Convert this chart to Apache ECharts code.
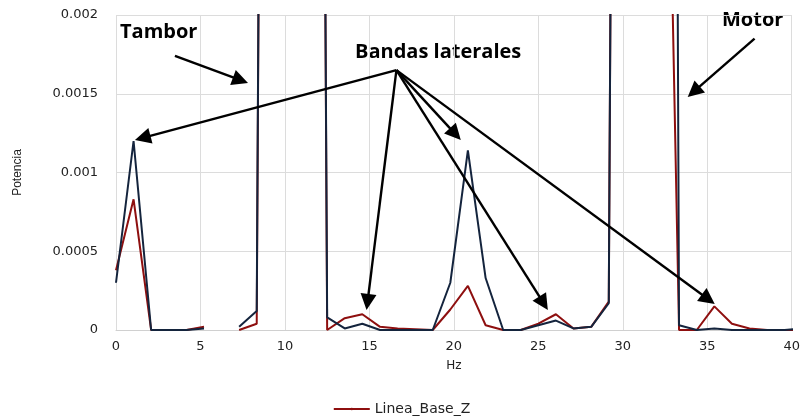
<!DOCTYPE html>
<html>
<head>
<meta charset="utf-8">
<script src="https://cdn.jsdelivr.net/npm/echarts@6/dist/echarts.min.js"></script>
<style>
html, body { margin: 0; padding: 0; background: #fff; }
#main { width: 803px; height: 420px; }
</style>
</head>
<body>
<div id="main"></div>
<script>
// frecuencias (Hz)
const hz = [0, 1.04, 2.08, 3.13, 4.17, 5.21, 6.25, 7.29, 8.33, 9.38, 10.42, 11.46, 12.5, 13.54, 14.58, 15.63, 16.67, 17.71, 18.75, 19.79,
    20.83, 21.88, 22.92, 23.96, 25, 26.04, 27.08, 28.13, 29.17, 30.21, 31.25, 32.29, 33.33, 34.38, 35.42, 36.46, 37.5, 38.54, 39.58, 40.63];
// serie azul oscuro
const serieAzul = [0.0003, 0.0012, 0, 0, 0, 0.00001, null, 0.00002, 0.00012, 0.02, 0.03, 0.02, 0.00008, 0.00001, 0.00004, 0, 0, 0, 0, 0.0003,
    0.00114, 0.00033, 0, 0, 0.00003, 0.00006, 0.00001, 0.00002, 0.00017, 0.02, 0.05, 0.027, 0.00003, 0, 0.00001, 0, 0, 0, 0, 0.00001];
// Linea_Base_Z
const lineaBaseZ = [0.00038, 0.00083, 0, 0, 0, 0.00002, null, 0, 0.00004, 0.02, 0.03, 0.02, 0, 0.000075, 0.0001, 0.00002, 0.00001, 0.000005, 0, 0.00013,
    0.00028, 0.00003, 0, 0, 0.00004, 0.0001, 0.00001, 0.00002, 0.00018, 0.02, 0.05, 0.0056, 0, 0, 0.00015, 0.00004, 0.00001, 0, 0, 0];
const yTicks = [0, 0.0005, 0.001, 0.0015, 0.002];

// flechas de anotación [desde, hasta] en coordenadas de datos
const flechas = [
    [[3.49, 0.00174], [7.37, 0.001586]],
    [[16.6, 0.00165], [1.58, 0.00122]],
    [[16.6, 0.00165], [14.89, 0.000178]],
    [[16.6, 0.00165], [20.09, 0.001244]],
    [[16.6, 0.00165], [25.31, 0.00017]],
    [[16.6, 0.00165], [35.06, 0.000195]],
    [[37.8, 0.00185], [34.2, 0.001513]]
];

const pares = (ys) => hz.map((x, i) => [x, ys[i]]);

let myChart = echarts.init(document.getElementById('main'));
myChart.setOption({
    animation: false,
    grid: { left: 116, right: 9, top: 15, bottom: 90 },
    legend: {
        data: ['Linea_Base_Z'],
        bottom: -1,
        left: 'center',
        itemWidth: 36,
        itemHeight: 3,
        itemGap: 4,
        textStyle: { fontFamily: 'DejaVu Sans', fontSize: 14, color: '#222' }
    },
    xAxis: {
        type: 'value',
        min: 0,
        max: 40,
        interval: 5,
        name: 'Hz',
        nameLocation: 'middle',
        nameGap: 30,
        nameTextStyle: { fontFamily: 'DejaVu Sans', fontSize: 12, color: '#222' },
        axisLine: { lineStyle: { color: '#d0d0d0' } },
        axisTick: { show: false },
        axisLabel: { fontFamily: 'DejaVu Sans', fontSize: 13, color: '#222', margin: 10 },
        splitLine: { show: true, lineStyle: { color: '#dcdcdc' } }
    },
    yAxis: {
        type: 'value',
        min: 0,
        max: yTicks[yTicks.length - 1],
        interval: yTicks[1],
        name: 'Potencia',
        nameLocation: 'middle',
        nameGap: 92,
        nameTextStyle: { fontFamily: 'Liberation Sans', fontSize: 12, color: '#222' },
        axisLine: { show: false },
        axisTick: { show: false },
        axisLabel: { fontFamily: 'DejaVu Sans', fontSize: 13, color: '#222', margin: 18 },
        splitLine: { lineStyle: { color: '#dcdcdc' } }
    },
    series: [
        {
            name: 'Linea_Base_Z',
            type: 'line',
            data: pares(lineaBaseZ),
            symbol: 'none',
            connectNulls: false,
            lineStyle: { color: '#8e0f0f', width: 2 },
            itemStyle: { color: '#8e0f0f' }
        },
        {
            name: 'Serie_Azul',
            type: 'line',
            data: pares(serieAzul),
            symbol: 'none',
            connectNulls: false,
            lineStyle: { color: '#14243d', width: 2 },
            itemStyle: { color: '#14243d' },
            markLine: {
                silent: true,
                symbol: ['none', 'triangle'],
                symbolSize: 16,
                label: { show: false },
                itemStyle: { color: '#000' },
                lineStyle: { color: '#000', width: 2.4, type: 'solid' },
                data: flechas.map(f => [{ coord: f[0] }, { coord: f[1] }])
            }
        }
    ],
    graphic: [
        { type: 'text', x: 120, y: 32, style: { text: 'Tambor', fontFamily: 'Open Sans', fontWeight: 'bold', fontSize: 20, fill: '#000', textVerticalAlign: 'middle' } },
        { type: 'text', x: 355, y: 52, style: { text: 'Bandas laterales', fontFamily: 'Open Sans', fontWeight: 'bold', fontSize: 20, fill: '#000', textVerticalAlign: 'middle' } },
        { type: 'text', x: 722, y: 20, style: { text: 'Motor', fontFamily: 'Open Sans', fontWeight: 'bold', fontSize: 20, fill: '#000', textVerticalAlign: 'middle' } }
    ]
});
</script>
</body>
</html>
